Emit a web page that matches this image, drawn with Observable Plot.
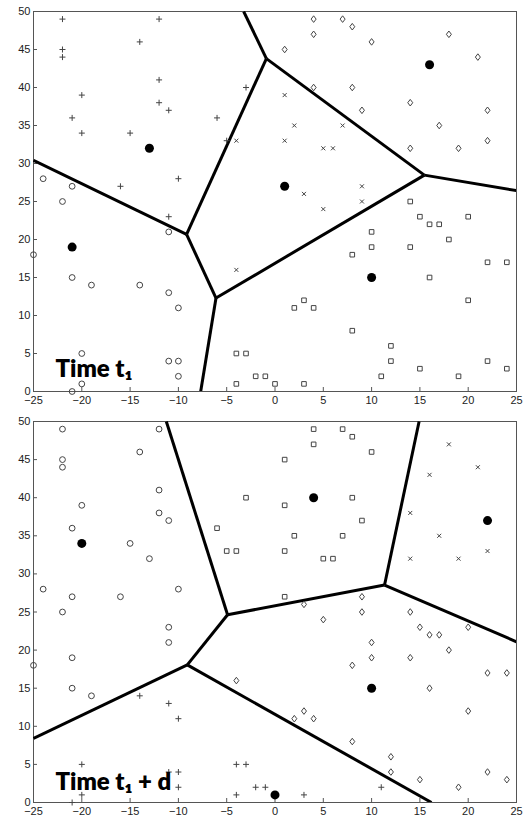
<!DOCTYPE html>
<html>
<head>
<meta charset="utf-8">
<script src="https://cdn.jsdelivr.net/npm/d3@7"></script>
<script src="https://cdn.jsdelivr.net/npm/@observablehq/plot@0.6"></script>
<style>
  html, body { margin: 0; padding: 0; background: #fff; }
  #chart svg { display: block; }
</style>
</head>
<body>
<div id="chart"></div>
<script>
// ---- data ----
const xTicks = [-25, -20, -15, -10, -5, 0, 5, 10, 15, 20, 25];
const yTicks = [0, 5, 10, 15, 20, 25, 30, 35, 40, 45, 50];

// sample points (same positions at both times); class: + o x s(square) d(diamond)
const pointX = [
  -22,-22,-22,-12,-14,-12,-20,-21,-20,-15,-12,-11,-6,-3,-10,-16,-5,-11,-13,
  -24,-21,-22,-11,-25,-21,-19,-14,-11,-10,-20,-11,-10,-10,-20,-21,-21,
  -4,-4,1,2,1,7,5,6,9,3,5,9,1,
  4,7,8,4,1,10,18,21,4,8,9,14,22,17,22,19,14,16,
  -4,-3,-2,-1,-4,0,3,11,2,3,4,8,12,12,15,19,22,24,20,16,8,10,10,14,14,15,16,17,18,20,22,24
];
const pointY = [
  49,45,44,49,46,41,39,36,34,34,38,37,36,40,28,27,33,23,32,
  28,27,25,21,18,15,14,14,13,11,5,4,4,2,1,0,19,
  33,16,39,35,33,35,32,32,27,26,24,25,27,
  49,49,48,47,45,46,47,44,40,40,37,38,37,35,33,32,32,43,
  5,5,2,2,1,1,1,2,11,12,11,8,6,4,3,2,4,3,12,15,18,19,21,19,25,23,22,22,20,23,17,17
];
const classT1 = [
  "+","+","+","+","+","+","+","+","+","+","+","+","+","+","+","+","+","+","o",
  "o","o","o","o","o","o","o","o","o","o","o","o","o","o","o","o","o",
  "x","x","x","x","x","x","x","x","x","x","x","x","s",
  "d","d","d","d","d","d","d","d","d","d","d","d","d","d","d","d","d","x",
  "s","s","s","s","s","s","s","s","s","s","s","s","s","s","s","s","s","s","s","s","s","s","s","s","s","s","s","s","s","s","s","s"
];
const classT2 = [
  "o","o","o","o","o","o","o","o","o","o","o","o","s","s","o","o","s","o","o",
  "o","o","o","o","o","o","o","+","+","+","+","+","+","+","+","+","o",
  "s","d","s","s","s","s","s","s","d","d","d","d","s",
  "s","s","s","s","s","s","x","x","s","s","s","x","x","x","x","x","x","x",
  "+","+","+","+","+","+","+","+","d","d","d","d","d","d","d","d","d","d","d","d","d","d","d","d","d","d","d","d","d","d","d","d"
];

// cluster centres (filled dots)
const centroidT1X = [-13, -21, 1, 16, 10];
const centroidT1Y = [32, 19, 27, 43, 15];
const centroidT2X = [-20, 4, 22, 10, 0];
const centroidT2Y = [34, 40, 37, 15, 1];

const labelT1 = "Time t\u2081";
const labelT2 = "Time t\u2081 + d";

// ---- marker shapes ----
const symbols = {
  "+": { draw(c) { c.moveTo(-3, 0); c.lineTo(3, 0); c.moveTo(0, -3); c.lineTo(0, 3); } },
  "x": { draw(c) { c.moveTo(-2, -2); c.lineTo(2, 2); c.moveTo(-2, 2); c.lineTo(2, -2); } },
  "o": { draw(c) { c.moveTo(2.9, 0); c.arc(0, 0, 2.9, 0, 2 * Math.PI); } },
  "s": { draw(c) { c.rect(-2.3, -2.3, 4.6, 4.6); } },
  "d": { draw(c) { c.moveTo(0, -3.3); c.lineTo(2.5, 0); c.lineTo(0, 3.3); c.lineTo(-2.5, 0); c.closePath(); } }
};

// Voronoi boundaries of the centres, computed in data units by d3.Delaunay
function voronoiEdges(cx, cy) {
  const pts = cx.map((x, i) => [x, cy[i]]);
  const vor = d3.Delaunay.from(pts).voronoi([xTicks[0], yTicks[0], xTicks[xTicks.length - 1], yTicks[yTicks.length - 1]]);
  const segs = [];
  let cur = null;
  vor.render({
    moveTo(x, y) { cur = [x, y]; },
    lineTo(x, y) { segs.push({ x1: cur[0], y1: cur[1], x2: x, y2: y }); cur = [x, y]; },
    closePath() {}
  });
  return segs;
}

function panel(classes, cx, cy, label, height, marginBottom, labelDy) {
  const marginTop = 11, marginLeft = 33, marginRight = 7;
  const frameW = 523 - marginLeft - marginRight;
  const frameH = height - marginTop - marginBottom;
  const pts = pointX.map((x, i) => ({ x, y: pointY[i], c: classes[i] }));
  const cents = cx.map((x, i) => ({ x, y: cy[i] }));
  const markerMarks = Object.keys(symbols).map(k =>
    Plot.dot(pts.filter(d => d.c === k), {
      x: "x", y: "y", symbol: symbols[k], r: 3,
      fill: "none", stroke: "#444", strokeWidth: 1
    })
  );
  return Plot.plot({
    width: 523, height, marginTop, marginBottom, marginLeft, marginRight,
    x: { domain: [-25, 25], label: null },
    y: { domain: [0, 50], label: null },
    style: { fontFamily: "'Liberation Sans', Arial, sans-serif", fontSize: "11px", color: "#222", background: "#fff" },
    marks: [
      Plot.frame({ stroke: "#555" }),
      Plot.tickX(xTicks, { x: d => d, insetTop: frameH - 4, stroke: "#555" }),
      Plot.tickY(yTicks, { y: d => d, insetRight: frameW - 4, stroke: "#555" }),
      Plot.axisX(xTicks, { tickSize: 0, tickPadding: 5, fill: "#222", label: null }),
      Plot.axisY(yTicks, { tickSize: 0, tickPadding: 3, fill: "#222", label: null }),
      Plot.link(voronoiEdges(cx, cy), {
        x1: "x1", y1: "y1", x2: "x2", y2: "y2",
        stroke: "black", strokeWidth: 3, strokeLinecap: "butt", clip: true
      }),
      ...markerMarks,
      Plot.dot(cents, { x: "x", y: "y", r: 4.5, fill: "black", stroke: "none" }),
      Plot.text([label], {
        frameAnchor: "bottom-left", text: d => d, dx: 22, dy: labelDy,
        textAnchor: "start", lineAnchor: "bottom",
        fontFamily: "Lato, 'Noto Sans', sans-serif", fontWeight: 800, fontSize: 24, fill: "#000"
      })
    ]
  });
}

const root = document.getElementById("chart");
root.append(panel(classT1, centroidT1X, centroidT1Y, labelT1, 410, 19, -15));
root.append(panel(classT2, centroidT2X, centroidT2Y, labelT2, 407, 15, -13));
</script>
</body>
</html>
